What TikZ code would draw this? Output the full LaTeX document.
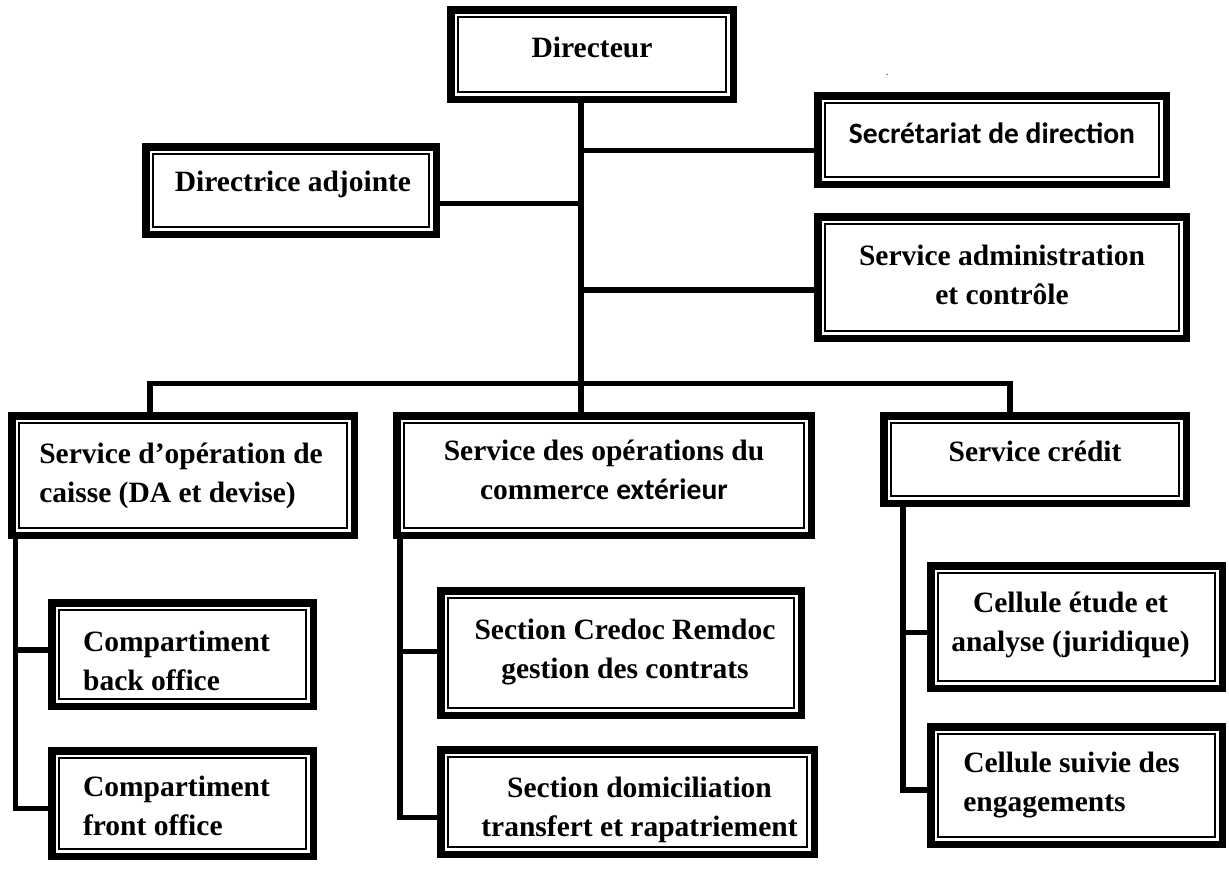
\documentclass[tikz,border=0pt]{standalone}
\usepackage{fontspec}
\setmainfont{Liberation Serif}
\newfontfamily\calibri{Carlito}
% draw a line of text offset by (#1 right, #2 up) while keeping its natural size
\newcommand\offln[3]{\raisebox{#2}[\height][\depth]{\rlap{\hspace*{#1}#3}\phantom{#3}}}
\begin{document}
\begin{tikzpicture}[x=1pt,y=-1pt,
  box/.style={draw, line width=7.5pt, fill=white, inner sep=0pt, align=center,
     font=\fontsize{29.5}{39}\selectfont\bfseries,
     path picture={\draw[line width=1.8pt] ([shift={(7.15,7.15)}]path picture bounding box.north west) rectangle ([shift={(-7.15,-7.15)}]path picture bounding box.south east);}},
  conn/.style={line width=5.5pt, line join=miter}]
\useasboundingbox (0,0) rectangle (1229,870);

\node[box, minimum width=282.5pt, minimum height=89.5pt] (dir) at (592,54.5) {\offln{0pt}{7pt}{Directeur}};
\node[box, minimum width=348.5pt, minimum height=88.5pt] (sec) at (992,140) {\offln{0pt}{7pt}{\calibri\bfseries Secrétariat de direction}};
\node[box, minimum width=290.5pt, minimum height=87.5pt] (adj) at (291,190.5) {\offln{2pt}{6pt}{Directrice adjointe}};
\node[box, minimum width=368.5pt, minimum height=121.5pt] (adm) at (1002,277.5) {\offln{0pt}{3pt}{Service administration}\\\offln{0pt}{3pt}{et contrôle}};
\node[box, align=left, minimum width=342.5pt, minimum height=119.5pt] (s1) at (183,475.5) {\offln{-2pt}{0pt}{Service d’opération de}\\\offln{-2pt}{0pt}{caisse (DA et devise)}};
\node[box, minimum width=414.5pt, minimum height=119.5pt] (s2) at (604,475.5) {\offln{0pt}{6pt}{Service des opérations du}\\\offln{0pt}{6pt}{commerce {\calibri\bfseries extérieur}}};
\node[box, minimum width=302.5pt, minimum height=87.5pt] (s3) at (1035,459.5) {\offln{0pt}{8pt}{Service crédit}};
\node[box, align=left, minimum width=261.5pt, minimum height=103.5pt] (c1) at (182.5,654.5) {\offln{-6pt}{-6pt}{Compartiment}\\\offln{-6pt}{-6pt}{back office}};
\node[box, align=left, minimum width=261.5pt, minimum height=105.5pt] (c2) at (182.5,803.5) {\offln{-6pt}{-2pt}{Compartiment}\\\offln{-6pt}{-2pt}{front office}};
\node[box, minimum width=360.5pt, minimum height=124.5pt] (m1) at (621,653) {\offln{4pt}{1pt}{Section Credoc Remdoc}\\\offln{4pt}{1pt}{gestion des contrats}};
\node[box, minimum width=373.5pt, minimum height=104.5pt] (m2) at (627.5,802) {\offln{12pt}{-8pt}{Section domiciliation}\\\offln{12pt}{-8pt}{transfert et rapatriement}};
\node[box, minimum width=291.5pt, minimum height=122.5pt] (e1) at (1076.5,627) {\offln{-6pt}{2pt}{Cellule étude et}\\\offln{-6pt}{2pt}{analyse (juridique)}};
\node[box, align=left, minimum width=291.5pt, minimum height=117.5pt] (e2) at (1076.5,785.5) {\offln{-5pt}{0pt}{Cellule suivie des}\\\offln{-5pt}{0pt}{engagements}};
\node[font=\fontsize{10}{10}\selectfont, inner sep=0pt] (dot) at (887,75) {.};

% trunk and branches
\coordinate (tr) at (581,383.5);
\draw[conn, line width=6pt] (tr |- dir.south) -- (tr |- s2.north);
\coordinate (jsec) at (581,150.5);
\draw[conn] (jsec) -- (jsec -| sec.west);
\coordinate (jadj) at (581,203.5);
\draw[conn] (jadj) -- (jadj -| adj.east);
\coordinate (jadm) at (581,290);
\draw[conn] (jadm) -- (jadm -| adm.west);
% bus
\coordinate (bl) at (150,383.5);
\coordinate (br) at (1010,383.5);
\draw[conn] (bl |- s1.north) -- (bl) -- (br) -- (br |- s3.north);
% left children
\coordinate (lt) at (15.5,650);
\coordinate (lb) at (15.5,808.5);
\draw[conn] (lb |- s1.south) -- (lb) -- (lb -| c2.west);
\draw[conn] (lt) -- (lt -| c1.west);
% middle children
\coordinate (mt) at (400,651.5);
\coordinate (mb) at (400,817.5);
\draw[conn] (mb |- s2.south) -- (mb) -- (mb -| m2.west);
\draw[conn] (mt) -- (mt -| m1.west);
% right children
\coordinate (rt) at (903,632.5);
\coordinate (rb) at (903,790);
\draw[conn] (rb |- s3.south) -- (rb) -- (rb -| e2.west);
\draw[conn] (rt) -- (rt -| e1.west);
\end{tikzpicture}
\end{document}
